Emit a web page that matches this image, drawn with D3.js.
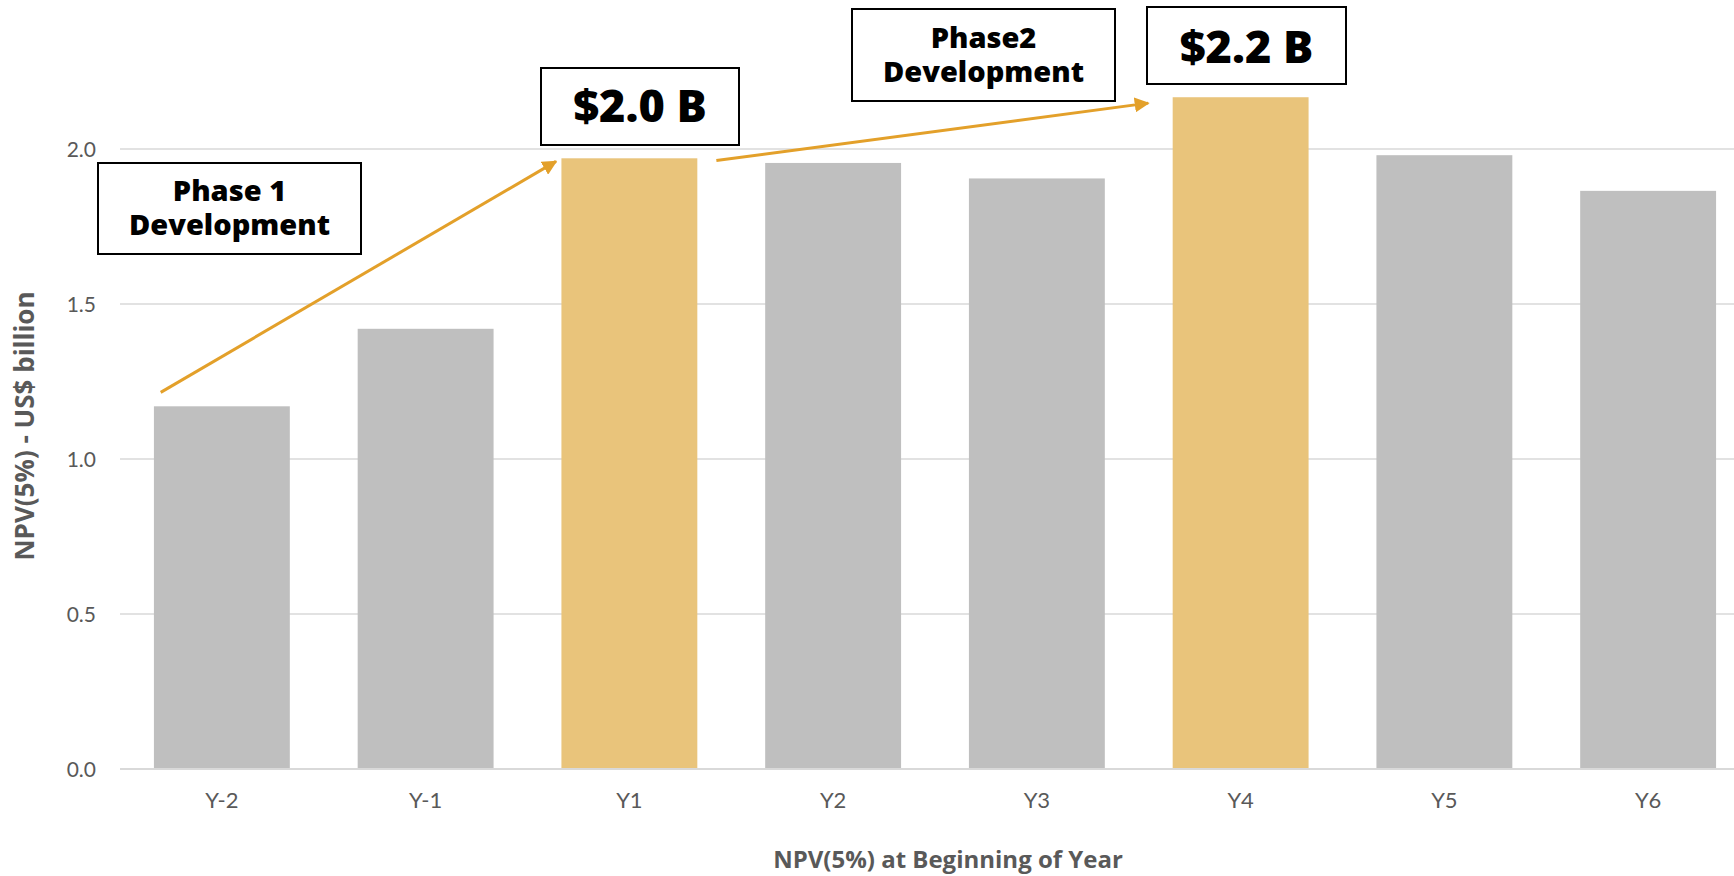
<!DOCTYPE html>
<html>
<head>
<meta charset="utf-8">
<script src="https://cdn.jsdelivr.net/npm/d3@7"></script>
<style>
  html, body { margin: 0; padding: 0; background: #fff; }
  svg { display: block; }
</style>
</head>
<body>
<div id="chart"></div>
<script>
var years = ["Y-2", "Y-1", "Y1", "Y2", "Y3", "Y4", "Y5", "Y6"];
var npv = [1.17, 1.42, 1.97, 1.955, 1.905, 2.167, 1.98, 1.865];
var highlighted = ["Y1", "Y4"];
var yTicks = [0, 0.5, 1.0, 1.5, 2.0];

var width = 1734, height = 876;
var boldFont = "'Open Sans', Lato, sans-serif";
var svg = d3.select("#chart").append("svg")
    .attr("width", width)
    .attr("height", height);

var x = d3.scaleBand()
    .domain(years)
    .range([120, 1750])
    .paddingInner(0.333)
    .paddingOuter(0.1665);

var y = d3.scaleLinear()
    .domain([0, 2])
    .range([769, 149]);

// gridlines
svg.selectAll("line.grid")
    .data(yTicks.filter(function (d) { return d > 0; }))
    .enter().append("line")
    .attr("class", "grid")
    .attr("x1", 120).attr("x2", width)
    .attr("y1", function (d) { return y(d); })
    .attr("y2", function (d) { return y(d); })
    .style("stroke", "#d9d9d9")
    .style("stroke-width", 1.5);

// bars
svg.selectAll("rect.bar")
    .data(years)
    .enter().append("rect")
    .attr("class", "bar")
    .attr("x", function (d) { return x(d); })
    .attr("width", x.bandwidth())
    .attr("y", function (d, i) { return y(npv[i]); })
    .attr("height", function (d, i) { return y(0) - y(npv[i]); })
    .style("fill", function (d) { return highlighted.indexOf(d) > -1 ? "#e9c47b" : "#bfbfbf"; });

// baseline
svg.append("line")
    .attr("x1", 120).attr("x2", width)
    .attr("y1", y(0)).attr("y2", y(0))
    .style("stroke", "#d9d9d9")
    .style("stroke-width", 2);

// y tick labels
svg.selectAll("text.ytick")
    .data(yTicks)
    .enter().append("text")
    .attr("class", "ytick")
    .attr("x", 96)
    .attr("y", function (d) { return y(d); })
    .attr("dy", "0.36em")
    .attr("text-anchor", "end")
    .style("font-family", "Lato, sans-serif")
    .style("font-size", "21px")
    .style("fill", "#595959")
    .text(function (d) { return d3.format(".1f")(d); });

// x tick labels
svg.selectAll("text.xtick")
    .data(years)
    .enter().append("text")
    .attr("class", "xtick")
    .attr("x", function (d) { return x(d) + x.bandwidth() / 2; })
    .attr("y", 808)
    .attr("text-anchor", "middle")
    .style("font-family", "Lato, sans-serif")
    .style("font-size", "22px")
    .style("fill", "#595959")
    .text(function (d) { return d; });

// axis titles
svg.append("text")
    .attr("x", 948)
    .attr("y", 868)
    .attr("text-anchor", "middle")
    .style("font-family", boldFont)
    .style("font-weight", "bold")
    .style("font-size", "24px")
    .style("fill", "#595959")
    .text("NPV(5%) at Beginning of Year");

svg.append("text")
    .attr("transform", "translate(34,426) rotate(-90)")
    .attr("text-anchor", "middle")
    .style("font-family", boldFont)
    .style("font-weight", "bold")
    .style("font-size", "26px")
    .style("fill", "#595959")
    .text("NPV(5%) - US$ billion");

// arrows
var defs = svg.append("defs");
defs.append("marker")
    .attr("id", "head")
    .attr("viewBox", "0 0 10 10")
    .attr("refX", 9).attr("refY", 5)
    .attr("markerWidth", 5).attr("markerHeight", 5)
    .attr("markerUnits", "strokeWidth")
    .attr("orient", "auto")
    .append("path")
    .attr("d", "M0,0 L10,5 L0,10 z")
    .style("fill", "#e3a02a");

var arrows = [
    { from: ["Y-2", 0.05, 1.215], to: ["Y1", -0.04, 1.96] },
    { from: ["Y1", 1.14, 1.963], to: ["Y4", -0.18, 2.148] }
];
svg.selectAll("line.arrow")
    .data(arrows)
    .enter().append("line")
    .attr("class", "arrow")
    .attr("x1", function (d) { return x(d.from[0]) + d.from[1] * x.bandwidth(); })
    .attr("y1", function (d) { return y(d.from[2]); })
    .attr("x2", function (d) { return x(d.to[0]) + d.to[1] * x.bandwidth(); })
    .attr("y2", function (d) { return y(d.to[2]); })
    .style("stroke", "#e3a02a")
    .style("stroke-width", 3)
    .attr("marker-end", "url(#head)");

// annotation boxes
function box(x0, y0, w, h, lines, size, weight, lineH, firstBase) {
    var g = svg.append("g");
    g.append("rect")
        .attr("x", x0).attr("y", y0)
        .attr("width", w).attr("height", h)
        .style("fill", "#fff")
        .style("stroke", "#000")
        .style("stroke-width", 2);
    g.selectAll("text")
        .data(lines)
        .enter().append("text")
        .attr("x", x0 + w / 2)
        .attr("y", function (d, i) { return y0 + firstBase + i * lineH; })
        .attr("text-anchor", "middle")
        .style("font-family", boldFont)
        .style("font-weight", weight)
        .style("font-size", size + "px")
        .style("fill", "#000")
        .text(function (d) { return d; });
}

box(98, 163, 263, 91, ["Phase 1", "Development"], 29, 800, 34, 38);
box(541, 68, 198, 77, ["$2.0 B"], 45, 800, 0, 54);
box(852, 9, 263, 92, ["Phase2", "Development"], 29, 800, 34, 39);
box(1147, 7, 199, 77, ["$2.2 B"], 45, 800, 0, 56);
</script>
</body>
</html>
